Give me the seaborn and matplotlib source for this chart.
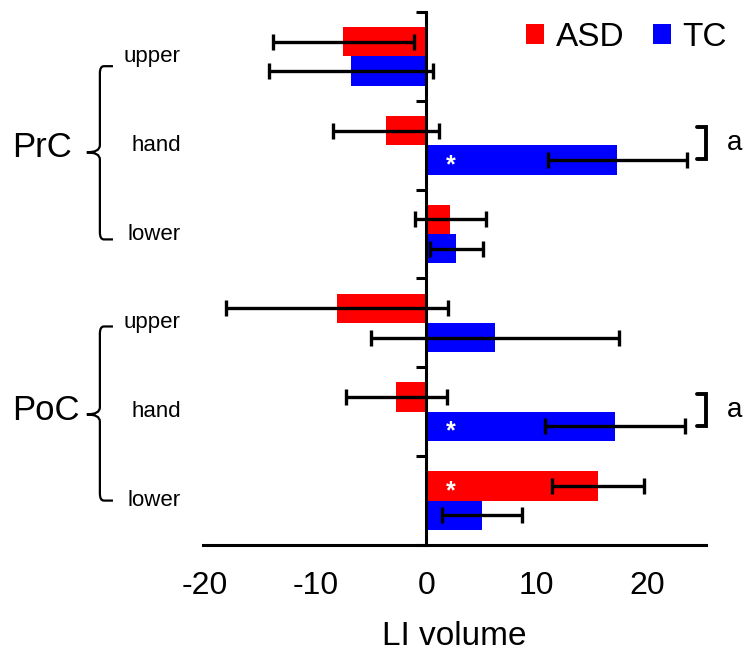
import matplotlib
matplotlib.use("Agg")
import matplotlib.pyplot as plt
import matplotlib.transforms as mtransforms
from matplotlib.path import Path
from matplotlib.patches import PathPatch
import seaborn as sns
import numpy as np
import pandas as pd

sns.set_style("ticks")
plt.rcParams['font.family'] = ['Liberation Sans', 'DejaVu Sans']
plt.rcParams['axes.unicode_minus'] = False
for k in ['text.color', 'axes.labelcolor', 'xtick.color', 'ytick.color', 'axes.edgecolor']:
    plt.rcParams[k] = 'black'

# data
regions = ["PrC", "PrC", "PrC", "PoC", "PoC", "PoC"]
parts = ["upper", "hand", "lower", "upper", "hand", "lower"]
asd_mean = [-7.5, -3.65, 2.17, -8.05, -2.7, 15.5]
asd_err = [6.35, 4.8, 3.23, 10.05, 4.55, 4.17]
tc_mean = [-6.8, 17.28, 2.71, 6.23, 17.06, 5.08]
tc_err = [7.45, 6.26, 2.42, 11.23, 6.36, 3.62]
star_bars = [("TC", 1), ("TC", 4), ("ASD", 5)]   # white asterisk inside bar
bracket_rows = [1, 4]                              # "a" bracket ASD vs TC
groups = ["ASD", "TC"]
colors = {"ASD": "#ff0000", "TC": "#0000ff"}

labels = [r + " " + p for r, p in zip(regions, parts)]
df = pd.DataFrame({
    "label": labels * 2,
    "value": asd_mean + tc_mean,
    "group": ["ASD"] * 6 + ["TC"] * 6,
})


def brace(ax, top, mid, bot, xv=-0.205, xh=-0.179, xn=-0.231):
    tr = mtransforms.blended_transform_factory(ax.transAxes, ax.transData)
    r, rx = 0.08, 0.008
    verts = [(xh, top), (xv + rx, top), (xv, top), (xv, top + r),
             (xv, mid - r), (xv, mid), (xn, mid),
             (xv, mid), (xv, mid + r),
             (xv, bot - r), (xv, bot), (xv + rx, bot), (xh, bot)]
    codes = [Path.MOVETO, Path.LINETO, Path.CURVE3, Path.CURVE3,
             Path.LINETO, Path.CURVE3, Path.CURVE3,
             Path.CURVE3, Path.CURVE3,
             Path.LINETO, Path.CURVE3, Path.CURVE3, Path.LINETO]
    ax.add_patch(PathPatch(Path(verts, codes), fill=False, lw=1.6,
                           edgecolor="k", transform=tr, clip_on=False))


fig = plt.figure(figsize=(7.48, 6.53), dpi=100)
ax = fig.add_axes([203 / 748, 1 - 545 / 653, 503 / 748, 533 / 653])

sns.barplot(data=df, y="label", x="value", hue="group", hue_order=groups,
            palette=colors, saturation=1, orient="h", width=0.66,
            linewidth=0, ax=ax)

# error bars from the bar ends
for cont, errs in zip(ax.containers, [asd_err, tc_err]):
    for bar, e in zip(cont, errs):
        yc = bar.get_y() + bar.get_height() / 2
        xe = bar.get_x() + bar.get_width()
        ax.errorbar(xe, yc, xerr=e, color="k", capsize=5.8,
                    elinewidth=2.4, capthick=2.4, zorder=3)

for g, i in star_bars:
    bar = ax.containers[groups.index(g)][i]
    yc = bar.get_y() + bar.get_height() / 2
    ax.text(2.2, yc + 0.06, "*", color="white", fontsize=18,
            fontweight="bold", ha="center", va="center", zorder=4)

for i in bracket_rows:
    y1, y2 = i - 0.2, i + 0.16
    ax.plot([24.5, 25.3, 25.3, 24.5], [y1, y1, y2, y2], color="k",
            lw=2.8, clip_on=False, solid_joinstyle="miter")
    ax.text(27.2, (y1 + y2) / 2, "a", fontsize=20, ha="left", va="center")

ax.set_xlim(-20.2, 25.3)
ax.set_ylim(5.5, -0.5)
ax.set_xticks([-20, -10, 0, 10, 20])
ax.set_yticks(np.arange(-0.5, 6, 1))
ax.set_yticklabels([])
ax.tick_params(axis="x", length=0, pad=19, labelsize=23)
ax.tick_params(axis="y", length=7.5, width=2.2, direction="out")
ax.set_xlabel("LI volume", fontsize=24, labelpad=14)
ax.set_ylabel("")

for s in ["top", "right"]:
    ax.spines[s].set_visible(False)
ax.spines["left"].set_position(("data", 0))
ax.spines["left"].set_linewidth(2.2)
ax.spines["bottom"].set_linewidth(2.2)

# category labels and region braces to the left
tr = mtransforms.blended_transform_factory(ax.transAxes, ax.transData)
for i, p in enumerate(parts):
    ax.text(-0.044, i, p, fontsize=16, ha="right", va="center", transform=tr)
brace(ax, 0.11, 1.08, 2.06)
brace(ax, 3.04, 4.03, 5.0)
ax.text(-0.38, 1.02, "PrC", fontsize=25, ha="left", va="center", transform=tr)
ax.text(-0.38, 3.99, "PoC", fontsize=25, ha="left", va="center", transform=tr)

ax.legend(loc="upper right", bbox_to_anchor=(727 / 748, 1 - 22 / 653),
          bbox_transform=fig.transFigure, ncol=2, frameon=False,
          fontsize=24, handlelength=0.55, handleheight=0.55,
          handletextpad=0.35, columnspacing=0.85, borderpad=0,
          borderaxespad=0)

fig.savefig("out.png", dpi=100)
